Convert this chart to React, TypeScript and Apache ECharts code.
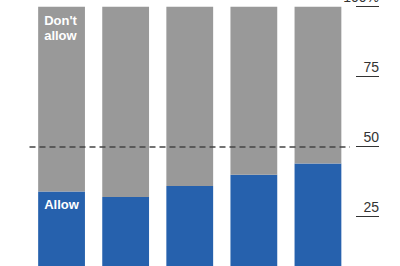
import React, { useEffect, useRef } from "react";
import * as echarts from "echarts";

const categories = ["A", "B", "C", "D", "E"];
const allowValues = [34, 32, 36, 40, 44];
const dontAllowValues = allowValues.map((v) => 100 - v);
const referenceLine = 50;

export default function App() {
  const ref = useRef<HTMLDivElement>(null);
  useEffect(() => {
    if (!ref.current) return;
    const chart = echarts.init(ref.current, null, { renderer: "svg" });
    const font = "'Liberation Sans', Arial, Helvetica, sans-serif";
    chart.setOption({
      animation: false,
      grid: {
        left: 29.5,
        top: 6.7,
        width: 320.5,
        height: 280,
        containLabel: false,
        outerBoundsMode: "none",
      },
      xAxis: {
        type: "category",
        data: categories,
        show: false,
      },
      yAxis: {
        type: "value",
        position: "right",
        min: 0,
        max: 100,
        interval: 25,
        offset: 6,
        splitLine: { show: false },
        axisLine: { show: false },
        axisTick: { show: true, inside: false, length: 23, lineStyle: { color: "#333", width: 1 } },
        axisLabel: {
          margin: 23,
          align: "right",
          verticalAlign: "bottom",
          padding: [0, 0, 3, 0],
          fontFamily: font,
          fontSize: 14,
          color: "#333",
          formatter: (v: number) => (v === 0 ? "" : v === 100 ? "100%" : String(v)),
        },
      },
      series: [
        {
          name: "Allow",
          type: "bar",
          stack: "s",
          data: allowValues,
          barCategoryGap: "27%",
          itemStyle: { color: "#2661ad" },
          label: {
            show: true,
            position: "insideTopLeft",
            distance: 6,
            color: "#fff",
            fontFamily: font,
            fontSize: 13,
            fontWeight: "bold",
            formatter: (p: any) => (p.dataIndex === 0 ? "Allow" : ""),
          },
          markLine: {
            silent: true,
            symbol: "none",
            label: { show: false },
            lineStyle: { type: [6, 4], color: "#444", width: 1.5 },
            data: [{ yAxis: referenceLine }],
          },
        },
        {
          name: "Don't allow",
          type: "bar",
          stack: "s",
          data: dontAllowValues,
          itemStyle: { color: "#999999" },
          label: {
            show: true,
            position: "insideTopLeft",
            distance: 6,
            color: "#fff",
            fontFamily: font,
            fontSize: 13,
            fontWeight: "bold",
            lineHeight: 15,
            formatter: (p: any) => (p.dataIndex === 0 ? "Don't\nallow" : ""),
          },
        },
      ],
    });
    return () => chart.dispose();
  }, []);
  return <div ref={ref} style={{ width: 400, height: 266, position: "absolute", left: 0, top: 0 }} />;
}
